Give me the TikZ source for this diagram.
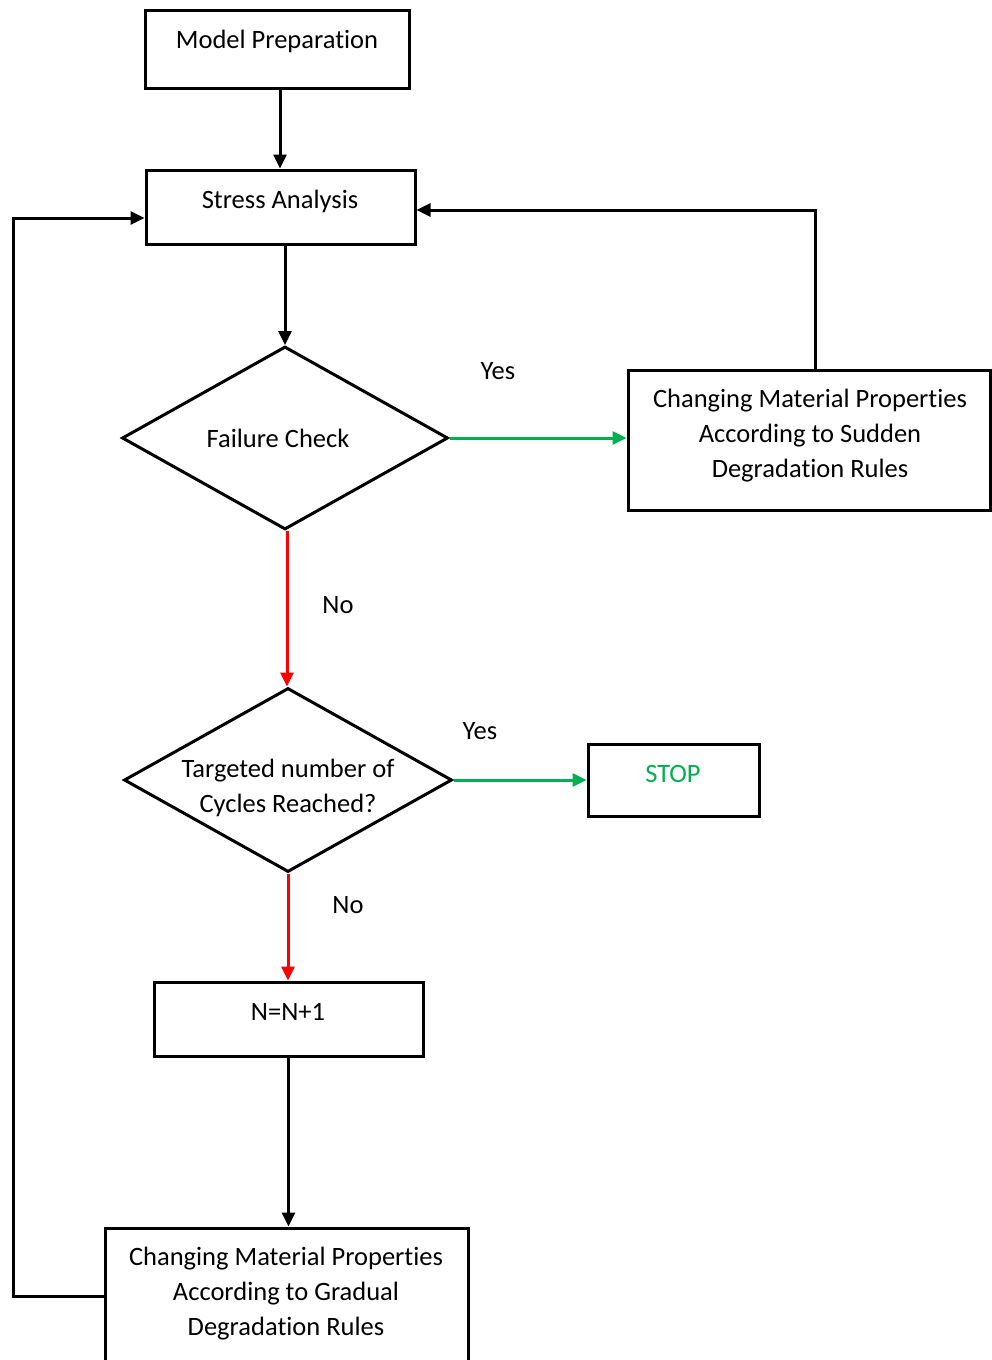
\documentclass[tikz,border=0pt]{standalone}
\usepackage{fontspec}
\setmainfont{Carlito}[RawFeature=-liga]
\usetikzlibrary{shapes.geometric,arrows.meta,calc}
\definecolor{wgreen}{RGB}{0,176,80}
\definecolor{wred}{RGB}{255,0,0}
\begin{document}
\begin{tikzpicture}[x=1pt,y=-1pt,
  box/.style={draw=black,line width=3pt,rectangle,inner sep=0pt},
  dia/.style={draw=black,line width=3pt,diamond,inner sep=0pt},
  txt/.style={font=\fontsize{26.5}{35}\selectfont,align=center,inner sep=0pt},
  conn/.style={line width=3pt,-{Triangle[length=14pt,width=13pt]}},
]
\clip (0,0) rectangle (992,1360);
\fill[white] (0,0) rectangle (992,1360);
% boxes
\node[box,minimum width=264pt,minimum height=78pt] (mp) at (277,49) {};
\node[box,minimum width=269pt,minimum height=74pt] (sa) at (280.5,207) {};
\node[dia,minimum width=326pt,minimum height=183pt] (fc) at (285,438) {};
\node[box,minimum width=362pt,minimum height=140pt] (sud) at (809,440) {};
\node[dia,minimum width=328pt,minimum height=184pt] (tc) at (288,780) {};
\node[box,minimum width=171pt,minimum height=72pt] (stop) at (673.5,780) {};
\node[box,minimum width=269pt,minimum height=74pt] (nn) at (288.5,1019) {};
\node[box,minimum width=363pt,minimum height=136pt] (gr) at (286.5,1296) {};
% texts
\node[txt,anchor=base] (tmp) at (277,48) {Model Preparation};
\node[txt,anchor=base] (tsa) at (280,208) {Stress Analysis};
\node[txt,anchor=base] (tfc) at (278,447) {Failure Check};
\node[txt] (tsud) at (810,436) {Changing Material Properties\\According to Sudden\\Degradation Rules};
\node[txt] (ttc) at (288,788) {Targeted number of\\Cycles Reached?};
\node[txt,anchor=base,text=wgreen] (tstop) at (673,782) {STOP};
\node[txt,anchor=base] (tnn) at (288,1020) {N=N+1};
\node[txt] (tgr) at (286,1294) {Changing Material Properties\\According to Gradual\\Degradation Rules};
\node[txt,anchor=base] (y1) at (498,379) {Yes};
\node[txt,anchor=base] (n1) at (338,613) {No};
\node[txt,anchor=base] (y2) at (480,739) {Yes};
\node[txt,anchor=base] (n2) at (348,913) {No};
% connectors
\draw[conn] ([xshift=3pt]mp.south) -- ([xshift=3pt]mp.south |- sa.north);
\draw[conn] (fc.north |- sa.south) -- (fc.north);
\draw[conn,wgreen] (fc.east) -- (fc.east -| sud.west);
\draw[conn] ([xshift=6pt]sud.north) |- ([yshift=-3pt]sa.east);
\draw[conn,wred] ([xshift=2pt]fc.south) -- ([xshift=2pt]fc.south |- tc.north);
\draw[conn,wgreen] (tc.east) -- (tc.east -| stop.west);
\draw[conn,wred] (tc.south) -- (tc.south |- nn.north);
\draw[conn] (nn.south) -- (nn.south |- gr.north);
\draw[conn] (gr.west) -- ++(-90,0) |- ([yshift=-11pt]sa.west);
\end{tikzpicture}
\end{document}
